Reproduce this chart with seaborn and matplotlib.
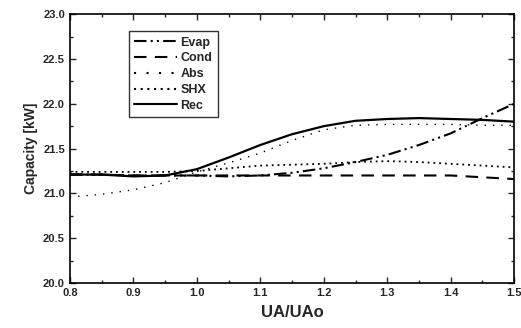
import numpy as np
import pandas as pd
import matplotlib
matplotlib.use("Agg")
import matplotlib.pyplot as plt
import seaborn as sns
from matplotlib.ticker import MultipleLocator, FormatStrFormatter

ua = [0.80, 0.85, 0.90, 0.95, 1.00, 1.05, 1.10, 1.15, 1.20, 1.25, 1.30, 1.35, 1.40, 1.45, 1.50]
evap = [21.21, 21.21, 21.20, 21.20, 21.20, 21.19, 21.20, 21.23, 21.28, 21.35, 21.43, 21.54, 21.67, 21.84, 22.00]
cond = [21.21, 21.21, 21.20, 21.20, 21.20, 21.20, 21.20, 21.20, 21.20, 21.20, 21.20, 21.20, 21.20, 21.18, 21.16]
abs_ = [20.96, 20.99, 21.04, 21.12, 21.24, 21.34, 21.45, 21.59, 21.71, 21.76, 21.77, 21.77, 21.77, 21.76, 21.76]
shx = [21.24, 21.24, 21.24, 21.24, 21.25, 21.28, 21.31, 21.32, 21.33, 21.35, 21.36, 21.35, 21.33, 21.31, 21.29]
rec = [21.21, 21.21, 21.19, 21.20, 21.27, 21.40, 21.54, 21.66, 21.75, 21.81, 21.83, 21.84, 21.83, 21.82, 21.80]

names = ["Evap", "Cond", "Abs", "SHX", "Rec"]
series = [evap, cond, abs_, shx, rec]
dashes = {"Evap": (6, 2, 1, 2, 1, 2), "Cond": (6, 4), "Abs": (1, 5), "SHX": (1, 2.2), "Rec": ""}
widths = {"Evap": 1.5, "Cond": 1.5, "Abs": 1.0, "SHX": 1.3, "Rec": 1.6}

df = pd.concat([pd.DataFrame({"UA": ua, "Cap": s, "Series": n}) for n, s in zip(names, series)])

sns.set_style("ticks")
plt.rcParams['font.family'] = ['Liberation Sans', 'DejaVu Sans']
plt.rcParams['font.weight'] = 'bold'

fig = plt.figure(figsize=(5.21, 3.28), dpi=100)
ax = fig.add_axes([0.134, 0.137, 0.853, 0.82])

sns.lineplot(data=df, x="UA", y="Cap", hue="Series", style="Series",
             palette=["black"] * 5, dashes=dashes, ax=ax, legend=True)
for line, n in zip(ax.get_lines(), names):
    line.set_linewidth(widths[n])

ax.set_xlim(0.8, 1.5)
ax.set_ylim(20.0, 23.0)
ax.xaxis.set_major_locator(MultipleLocator(0.1))
ax.xaxis.set_minor_locator(MultipleLocator(0.05))
ax.yaxis.set_major_locator(MultipleLocator(0.5))
ax.yaxis.set_minor_locator(MultipleLocator(0.25))
ax.xaxis.set_major_formatter(FormatStrFormatter('%.1f'))
ax.yaxis.set_major_formatter(FormatStrFormatter('%.1f'))
ax.tick_params(axis='both', which='both', direction='in', top=True, right=True, labelsize=8, width=1)
ax.tick_params(which='major', length=4)
ax.tick_params(which='minor', length=2)
for lab in ax.get_xticklabels() + ax.get_yticklabels():
    lab.set_fontweight('bold')
for sp in ax.spines.values():
    sp.set_linewidth(1.2)
    sp.set_color('black')

ax.set_xlabel("UA/UAo", fontsize=12, fontweight='bold', labelpad=5)
ax.set_ylabel("Capacity [kW]", fontsize=10, fontweight='bold', labelpad=4)

handles, labels = ax.get_legend_handles_labels()
leg = ax.legend(handles, labels, loc='upper left', bbox_to_anchor=(0.118, 0.96),
                frameon=True, fancybox=False, edgecolor='black', fontsize=9,
                handlelength=3.4, handletextpad=0.3, borderpad=0.45, labelspacing=0.3)
leg.get_frame().set_linewidth(1.0)
for t in leg.get_texts():
    t.set_fontweight('bold')

fig.savefig("out.png", dpi=100)
